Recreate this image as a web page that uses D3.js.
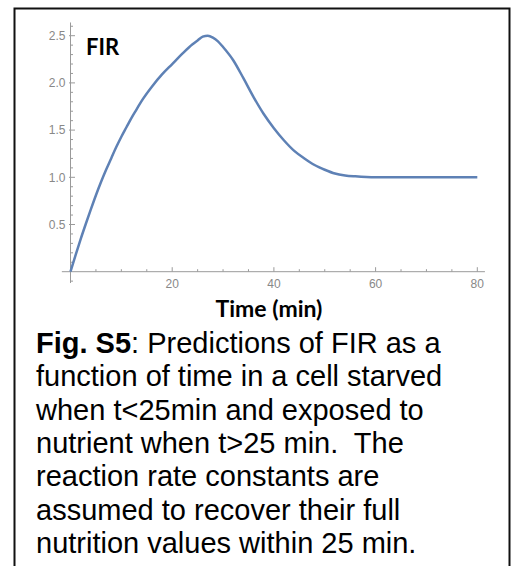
<!DOCTYPE html>
<html lang="en">
<head>
  <meta charset="UTF-8" />
  <title>Fig. S5 FIR</title>
  <script src="https://d3js.org/d3.v7.min.js"></script>
  <style>
    body { margin: 0; background: #fff; }
    svg { display: block; }
  </style>
</head>
<body>
  <div id="chart"></div>
  <script>
    // FIR over time (min)
    const timeMin = [0, 1, 2, 3, 4, 5, 6, 7, 8, 9, 10, 11, 12, 13, 14, 16, 18, 20, 22, 24, 25, 26, 27, 28, 29, 30, 32, 34, 36, 38, 40, 42, 44, 46, 48, 50, 52, 54, 56, 60, 70, 80];
    const firValues = [0, 0.175, 0.345, 0.505, 0.66, 0.81, 0.95, 1.08, 1.2, 1.32, 1.43, 1.53, 1.63, 1.72, 1.81, 1.96, 2.09, 2.2, 2.31, 2.41, 2.45, 2.49, 2.5, 2.48, 2.44, 2.38, 2.24, 2.05, 1.85, 1.67, 1.52, 1.39, 1.28, 1.2, 1.13, 1.08, 1.04, 1.02, 1.01, 1.0, 1.0, 1.0];
    const xMajorTicks = [20, 40, 60, 80];
    const yMajorTicks = [0.5, 1.0, 1.5, 2.0, 2.5];
    const captionLines = [
      "function of time in a cell starved",
      "when t<25min and exposed to",
      "nutrient when t>25 min.\u00a0 The",
      "reaction rate constants are",
      "assumed to recover their full",
      "nutrition values within 25 min."
    ];

    const width = 511, height = 566;
    const svg = d3.select("#chart").append("svg").attr("width", width).attr("height", height);

    // frame
    svg.append("rect").attr("x", 14.5).attr("y", 8.5).attr("width", 495).attr("height", 600)
      .attr("fill", "none").attr("stroke", "#111").attr("stroke-width", 2);

    const x = d3.scaleLinear().domain([0, 80]).range([70.5, 477.3]);
    const y = d3.scaleLinear().domain([0, 2.5]).range([271.7, 35.7]);

    const axisColor = "#9a9a9a", labelColor = "#888";
    const g = svg.append("g");

    // axis lines (a little past the data range, like Mathematica)
    g.append("line").attr("x1", x(-1.7)).attr("x2", x(81.5)).attr("y1", y(0)).attr("y2", y(0))
      .attr("stroke", axisColor).attr("stroke-width", 1);
    g.append("line").attr("x1", x(0)).attr("x2", x(0)).attr("y1", y(2.64)).attr("y2", y(-0.12))
      .attr("stroke", axisColor).attr("stroke-width", 1);

    // x ticks: major every 20, minor every 5
    const xMinor = d3.range(5, 81, 5).filter(v => !xMajorTicks.includes(v));
    g.selectAll(".xminor").data(xMinor).enter().append("line")
      .attr("x1", d => x(d)).attr("x2", d => x(d)).attr("y1", y(0)).attr("y2", y(0) - 2.5)
      .attr("stroke", axisColor);
    g.selectAll(".xmajor").data(xMajorTicks).enter().append("line")
      .attr("x1", d => x(d)).attr("x2", d => x(d)).attr("y1", y(0)).attr("y2", y(0) - 4.5)
      .attr("stroke", axisColor);
    g.selectAll(".xlab").data(xMajorTicks).enter().append("text")
      .attr("x", d => x(d)).attr("y", y(0) + 16).attr("text-anchor", "middle")
      .style("font", "12px 'Liberation Sans', Arial, sans-serif").style("fill", labelColor)
      .text(d => d);

    // y ticks: major every 0.5, minor every 0.1
    const yMinor = d3.range(-1, 27).map(v => v / 10).filter(v => Math.round(v * 10) % 5 !== 0);
    g.selectAll(".yminor").data(yMinor).enter().append("line")
      .attr("x1", x(0)).attr("x2", x(0) + 2.5).attr("y1", d => y(d)).attr("y2", d => y(d))
      .attr("stroke", axisColor);
    g.selectAll(".ymajor").data(yMajorTicks).enter().append("line")
      .attr("x1", x(0) - 1.5).attr("x2", x(0) + 4.5).attr("y1", d => y(d)).attr("y2", d => y(d))
      .attr("stroke", axisColor);
    g.selectAll(".ylab").data(yMajorTicks).enter().append("text")
      .attr("x", x(0) - 5).attr("y", d => y(d) + 4.3).attr("text-anchor", "end")
      .style("font", "12px 'Liberation Sans', Arial, sans-serif").style("fill", labelColor)
      .text(d => d.toFixed(1));

    // curve
    const pts = timeMin.map((t, i) => [t, firValues[i]]);
    const line = d3.line().x(d => x(d[0])).y(d => y(d[1])).curve(d3.curveMonotoneX);
    g.append("path").datum(pts).attr("d", line)
      .attr("fill", "none").attr("stroke", "#5e81b5").attr("stroke-width", 2.5);

    // panel label and axis title
    svg.append("text").attr("x", 86).attr("y", 55)
      .style("font", "bold 22px Lato, 'Open Sans', sans-serif").style("fill", "#000").text("FIR");
    svg.append("text").attr("x", 269).attr("y", 317).attr("text-anchor", "middle")
      .style("font", "bold 23px Lato, 'Open Sans', sans-serif").style("fill", "#000").text("Time (min)");

    // caption
    const capFont = "29px 'Liberation Sans', Arial, sans-serif";
    const first = svg.append("text").attr("x", 36).attr("y", 352.7).style("font", capFont).style("fill", "#000");
    first.append("tspan").style("font-weight", "bold").text("Fig. S5");
    first.append("tspan").text(": Predictions of FIR as a");
    svg.selectAll(".cap").data(captionLines).enter().append("text")
      .attr("x", 36).attr("y", (d, i) => 352.7 + (i + 1) * 33.4)
      .style("font", capFont).style("fill", "#000")
      .text(d => d);
  </script>
</body>
</html>
